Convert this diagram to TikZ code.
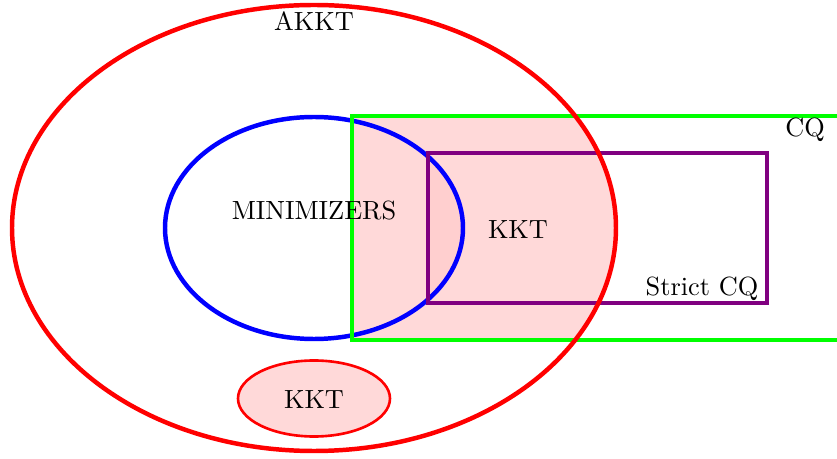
\documentclass[tikz,border=0pt]{standalone}
\begin{document}
\begin{tikzpicture}[x=0.38pt,y=-0.38pt,
  outline/.style={line width=1.7pt},
  lbl/.style={inner sep=0pt, font=\normalsize}]
\useasboundingbox (0,0) rectangle (837,459);

% shaded region: AKKT inside CQ
\begin{scope}
  \clip (352,116) rectangle (900,340);
  \fill[red!15] (314,228) ellipse [x radius=302, y radius=223];
\end{scope}
% slightly darker overlap: minimizers inside strict CQ
\begin{scope}
  \clip (428,153) rectangle (767,303);
  \fill[red!19] (314,228) ellipse [x radius=149, y radius=111];
\end{scope}

% sets
\draw[outline, blue] (314,228) ellipse [x radius=149, y radius=111];
\draw[outline, green] (900,116) -- (352,116) -- (352,340) -- (900,340);
\draw[outline, violet] (428,153) rectangle (767,303);
\draw[outline, red] (314,228) ellipse [x radius=302, y radius=223];

% isolated KKT set
\fill[red!15, draw=red, line width=1pt] (314,398.5) ellipse [x radius=76, y radius=38];

% labels
\node[lbl] (akkt) at (314,21) {AKKT};
\node[lbl] (mini) at (314,211) {MINIMIZERS};
\node[lbl] (kkt) at (518,230) {KKT};
\node[lbl] (cq) at (805,130) {CQ};
\node[lbl] (scq) at (702,289) {Strict CQ};
\node[lbl] (kktb) at (314,400) {KKT};
\end{tikzpicture}
\end{document}
